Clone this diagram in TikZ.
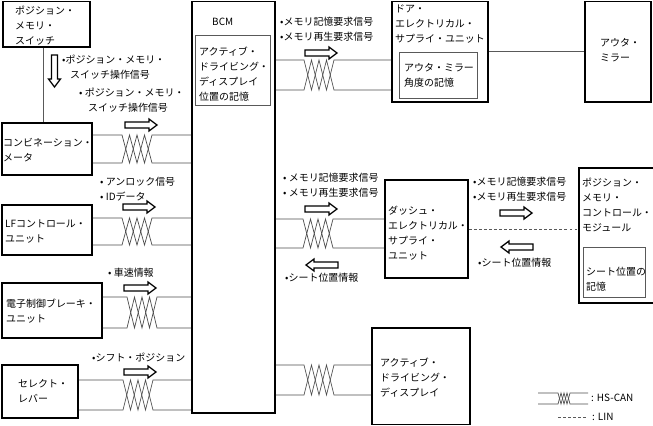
\documentclass[tikz,border=0pt]{standalone}
\usepackage{fontspec}
\setmainfont{Noto Sans CJK JP}
\usetikzlibrary{fit}

% twisted pair: from, to, top y, bottom y, start of twist, step
\newcommand{\hscan}[6]{%
  \draw[can] (#1 |- 0,#3) -- (#5,#3) -- ++(#6,{#4-#3}) -- ++(#6,{#3-#4})
    -- ++(#6,{#4-#3}) -- ++(#6,{#3-#4}) -- (#2 |- 0,#3);
  \draw[can] (#1 |- 0,#4) -- (#5,#4) -- ++(#6,{#3-#4}) -- ++(#6,{#4-#3})
    -- ++(#6,{#3-#4}) -- ++(#6,{#4-#3}) -- (#2 |- 0,#4);
}

\begin{document}
\begin{tikzpicture}[x=0.03cm,y=-0.03cm,
    every node/.style={font=\fontsize{8.5}{12.8}\selectfont},
    unit/.style={draw,line width=1.3pt,inner sep=0pt,fit={#1}},
    memo/.style={draw,gray!70!black,line width=0.7pt,inner sep=0pt,fit={#1}},
    txt/.style={inner sep=0pt,align=left,anchor=west},
    wire/.style={gray!70!black,line width=0.7pt},
    can/.style={gray!60!black,line width=0.6pt},
    lin/.style={gray!70!black,line width=0.6pt,dash pattern=on 2.5pt off 1.8pt},
    sig/.pic={\draw[line width=1.1pt,fill=white] (0,-3) -- (24,-3) -- (24,-6)
      -- (32,0) -- (24,6) -- (24,3) -- (0,3) -- cycle;}]
  \useasboundingbox (0,0) rectangle (653,426);

  % units
  \node[unit={(3,1.5) (90,47)}] (psw) {};
  \node[unit={(2,123) (92,175)}] (cm) {};
  \node[unit={(2,205) (92,255)}] (lf) {};
  \node[unit={(2,283) (102,338)}] (ebcm) {};
  \node[unit={(2,365) (78,418)}] (sel) {};
  \node[unit={(192,1.5) (275,413)}] (bcm) {};
  \node[memo={(195,35) (270,105)}] (bcm-mem) {};
  \node[unit={(392,1.5) (488,102)}] (desu) {};
  \node[memo={(399,52) (477,98)}] (desu-mem) {};
  \node[unit={(585,1.5) (651,102)}] (mirror) {};
  \node[unit={(385,180) (468,278)}] (dsesu) {};
  \node[unit={(579,168) (656,303)}] (pmcm) {};
  \node[memo={(583,247) (645,297)}] (pmcm-mem) {};
  \node[unit={(372,328) (470,424.5)}] (add) {};

  \node[txt] (psw-t) at (15,26) {ポジション・\\メモリ・\\スイッチ};
  \node[txt] (cm-t) at (3,150) {コンビネーション・\\メータ};
  \node[txt] (lf-t) at (5,232) {LFコントロール・\\ユニット};
  \node[txt] (ebcm-t) at (6,311) {電子制御ブレーキ・\\ユニット};
  \node[txt] (sel-t) at (18,391) {セレクト・\\レバー};
  \node[txt] (bcm-t) at (212,22) {BCM};
  \node[txt] (bcm-mem-t) at (199,74.5) {アクティブ・\\ドライビング・\\ディスプレイ\\位置の記憶};
  \node[txt] (desu-t) at (395,24) {ドア・\\エレクトリカル・\\サプライ・ユニット};
  \node[txt] (desu-mem-t) at (404,75) {アウタ・ミラー\\角度の記憶};
  \node[txt] (mirror-t) at (600,50) {アウタ・\\ミラー};
  \node[txt] (dsesu-t) at (388,233) {ダッシュ・\\エレクトリカル・\\サプライ・\\ユニット};
  \node[txt] (pmcm-t) at (582,205) {ポジション・\\メモリ・\\コントロール・\\モジュール};
  \node[txt] (pmcm-mem-t) at (586,279) {シート位置の\\記憶};
  \node[txt] (add-t) at (380,378) {アクティブ・\\ドライビング・\\ディスプレイ};

  % signals
  \node[txt] (sw-op1) at (62,67) {•ポジション・メモリ・\\\hspace*{0.24cm}スイッチ操作信号};
  \node[txt] (sw-op2) at (79,100) {• ポジション・メモリ・\\\hspace*{0.27cm}スイッチ操作信号};
  \node[txt] (lf-sig) at (100,189) {• アンロック信号\\• IDデータ};
  \node[txt] (speed) at (108,273) {• 車速情報};
  \node[txt] (shift) at (92,358) {•シフト・ポジション};
  \node[txt] (desu-sig) at (280,29.5) {•メモリ記憶要求信号\\•メモリ再生要求信号};
  \node[txt] (dsesu-sig) at (283,185.5) {• メモリ記憶要求信号\\• メモリ再生要求信号};
  \node[txt] (dsesu-seat) at (285,278) {•シート位置情報};
  \node[txt] (pmcm-sig) at (473,189.5) {•メモリ記憶要求信号\\•メモリ再生要求信号};
  \node[txt] (pmcm-seat) at (478,263) {•シート位置情報};

  % lines
  \draw[wire] (psw.south -| 43,0) -- (cm.north -| 43,0);
  \hscan{cm.east}{bcm.west}{135}{163}{122}{7.5}
  \hscan{lf.east}{bcm.west}{218}{245}{122}{7.5}
  \hscan{ebcm.east}{bcm.west}{297}{328}{127}{7.5}
  \hscan{sel.east}{bcm.west}{380}{410}{123}{7.5}
  \hscan{bcm.east}{desu.west}{60}{90}{304}{7.5}
  \hscan{bcm.east}{dsesu.west}{219}{248}{303}{7.5}
  \hscan{bcm.east}{add.west}{365}{395}{304}{7.5}
  \draw[wire] (desu) -- (mirror);
  \draw[lin] (dsesu.east) -- (dsesu.east -| pmcm.west);

  \pic[rotate=-90] at (54.5,55) {sig};
  \pic at (125,125) {sig};
  \pic at (123,207) {sig};
  \pic at (124,288) {sig};
  \pic at (124,372) {sig};
  \pic at (305,53) {sig};
  \pic at (305,209) {sig};
  \pic[xscale=-1] at (338,265) {sig};
  \pic at (500,213) {sig};
  \pic[xscale=-1] at (533,247) {sig};

  % legend
  \coordinate (leg-l) at (538,393);
  \coordinate (leg-r) at (588,393);
  \hscan{leg-l}{leg-r}{393}{404}{558}{3}
  \node[txt] (leg-can) at (591,398) {: HS-CAN};
  \coordinate (lin-l) at (558,417);
  \coordinate (lin-r) at (588,417);
  \draw[lin] (lin-l) -- (lin-r);
  \node[txt] (leg-lin) at (592,417) {: LIN};
\end{tikzpicture}
\end{document}
